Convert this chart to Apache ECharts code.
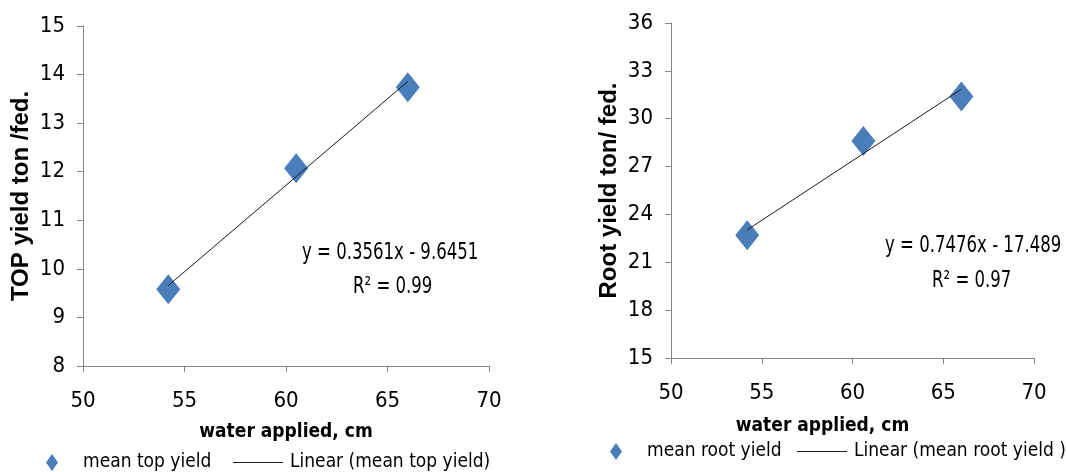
<!DOCTYPE html>
<html>
<head>
<meta charset="utf-8">
<script src="https://cdn.jsdelivr.net/npm/echarts@6/dist/echarts.min.js"></script>
<style>
  body { margin: 0; background: #fff; }
  #main { width: 1066px; height: 472px; }
</style>
</head>
<body>
<div id="main"></div>
<script>
// water applied, cm
var waterTop = [54.2, 60.5, 66.0];
var topYield = [9.58, 12.07, 13.74];
var waterRoot = [54.2, 60.6, 66.0];
var rootYield = [22.7, 28.6, 31.4];

// trend lines as printed on the chart
var topSlope = 0.3561, topIntercept = -9.6451;
var rootSlope = 0.7476, rootIntercept = -17.489;
var topEq = ["y = 0.3561x - 9.6451", "R² = 0.99"];
var rootEq = ["y = 0.7476x - 17.489", "R² = 0.97"];

var xTicks = [50, 55, 60, 65, 70];
var topTicks = [8, 9, 10, 11, 12, 13, 14, 15];
var rootTicks = [15, 18, 21, 24, 27, 30, 33, 36];

var narrow = "'DejaVu Sans Condensed', sans-serif";
var blue = "#4A7EBB";
var axisGray = "#868686";

function pairs(xs, ys) {
  return xs.map(function (x, i) { return [x, ys[i]]; });
}
function trend(xs, a, b) {
  var lo = Math.min.apply(null, xs), hi = Math.max.apply(null, xs);
  return [[lo, a * lo + b], [hi, a * hi + b]];
}

function xAxisCfg(idx, pad, gap) {
  return {
    type: "value", gridIndex: idx, min: xTicks[0], max: xTicks[xTicks.length - 1], interval: 5,
    name: "water applied, cm", nameLocation: "middle", nameGap: gap,
    nameTextStyle: { fontFamily: narrow, fontWeight: "bold", fontSize: 19, color: "#000", padding: pad },
    splitLine: { show: false },
    axisLine: { lineStyle: { color: axisGray, width: 1 } },
    axisTick: { show: true, length: 6, lineStyle: { color: axisGray } },
    axisLabel: { fontFamily: narrow, fontSize: 22, color: "#000", margin: 24 }
  };
}
function yAxisCfg(idx, ticks, name) {
  return {
    type: "value", gridIndex: idx, min: ticks[0], max: ticks[ticks.length - 1], interval: ticks[1] - ticks[0],
    name: name, nameLocation: "middle", nameRotate: 90, nameGap: 50,
    nameTextStyle: { fontFamily: "'Liberation Sans', Arial, sans-serif", fontWeight: "bold", fontSize: 24, color: "#000" },
    splitLine: { show: false },
    axisLine: { show: true, lineStyle: { color: axisGray, width: 1 } },
    axisTick: { show: true, length: 6, lineStyle: { color: axisGray } },
    axisLabel: { fontFamily: narrow, fontSize: 22, color: "#000", margin: 18 }
  };
}
function legendCfg(name, left, top, icon, w, h, padLeft) {
  return {
    data: [{ name: name, icon: icon }], left: left, top: top,
    itemWidth: w, itemHeight: h, padding: 0,
    textStyle: { fontFamily: narrow, fontSize: 19, color: "#000", padding: [0, 0, 0, padLeft] }
  };
}
function eqText(lines, x1, y1, x2, y2) {
  var font = "23px " + narrow;
  return [
    { type: "text", left: x1, top: y1, scaleX: 0.8, style: { text: lines[0], font: font, fill: "#000" } },
    { type: "text", left: x2, top: y2, scaleX: 0.8, style: { text: lines[1], font: font, fill: "#000" } }
  ];
}

var chart = echarts.init(document.getElementById("main"));
chart.setOption({
  animation: false,
  grid: [
    { left: 83, right: 577, top: 26, bottom: 106 },
    { left: 671, right: 32, top: 23, bottom: 114 }
  ],
  xAxis: [xAxisCfg(0, [0, 0, 0, 0], 57), xAxisCfg(1, [0, 60, 0, 0], 59)],
  yAxis: [yAxisCfg(0, topTicks, "TOP yield ton /fed."), yAxisCfg(1, rootTicks, "Root yield ton/ fed.")],
  legend: [
    legendCfg("mean top yield", 46, 453, "diamond", 12, 17, 20),
    legendCfg("Linear (mean top yield)", 233, 453, "rect", 50, 1, 2),
    legendCfg("mean root yield", 610, 442, "diamond", 12, 17, 20),
    legendCfg("Linear (mean root yield )", 797, 442, "rect", 50, 1, 2)
  ],
  series: [
    { name: "mean top yield", type: "scatter", xAxisIndex: 0, yAxisIndex: 0,
      symbol: "diamond", symbolSize: [24, 30], itemStyle: { color: blue, opacity: 1 },
      data: pairs(waterTop, topYield) },
    { name: "Linear (mean top yield)", type: "line", xAxisIndex: 0, yAxisIndex: 0,
      symbol: "none", lineStyle: { color: "#1a1a1a", width: 1 }, itemStyle: { color: "#1a1a1a" },
      data: trend(waterTop, topSlope, topIntercept), z: 3 },
    { name: "mean root yield", type: "scatter", xAxisIndex: 1, yAxisIndex: 1,
      symbol: "diamond", symbolSize: [24, 30], itemStyle: { color: blue, opacity: 1 },
      data: pairs(waterRoot, rootYield) },
    { name: "Linear (mean root yield )", type: "line", xAxisIndex: 1, yAxisIndex: 1,
      symbol: "none", lineStyle: { color: "#1a1a1a", width: 1 }, itemStyle: { color: "#1a1a1a" },
      data: trend(waterRoot, rootSlope, rootIntercept), z: 3 }
  ],
  graphic: eqText(topEq, 302, 242, 353, 276).concat(eqText(rootEq, 885, 235, 932, 270))
});
</script>
</body>
</html>
